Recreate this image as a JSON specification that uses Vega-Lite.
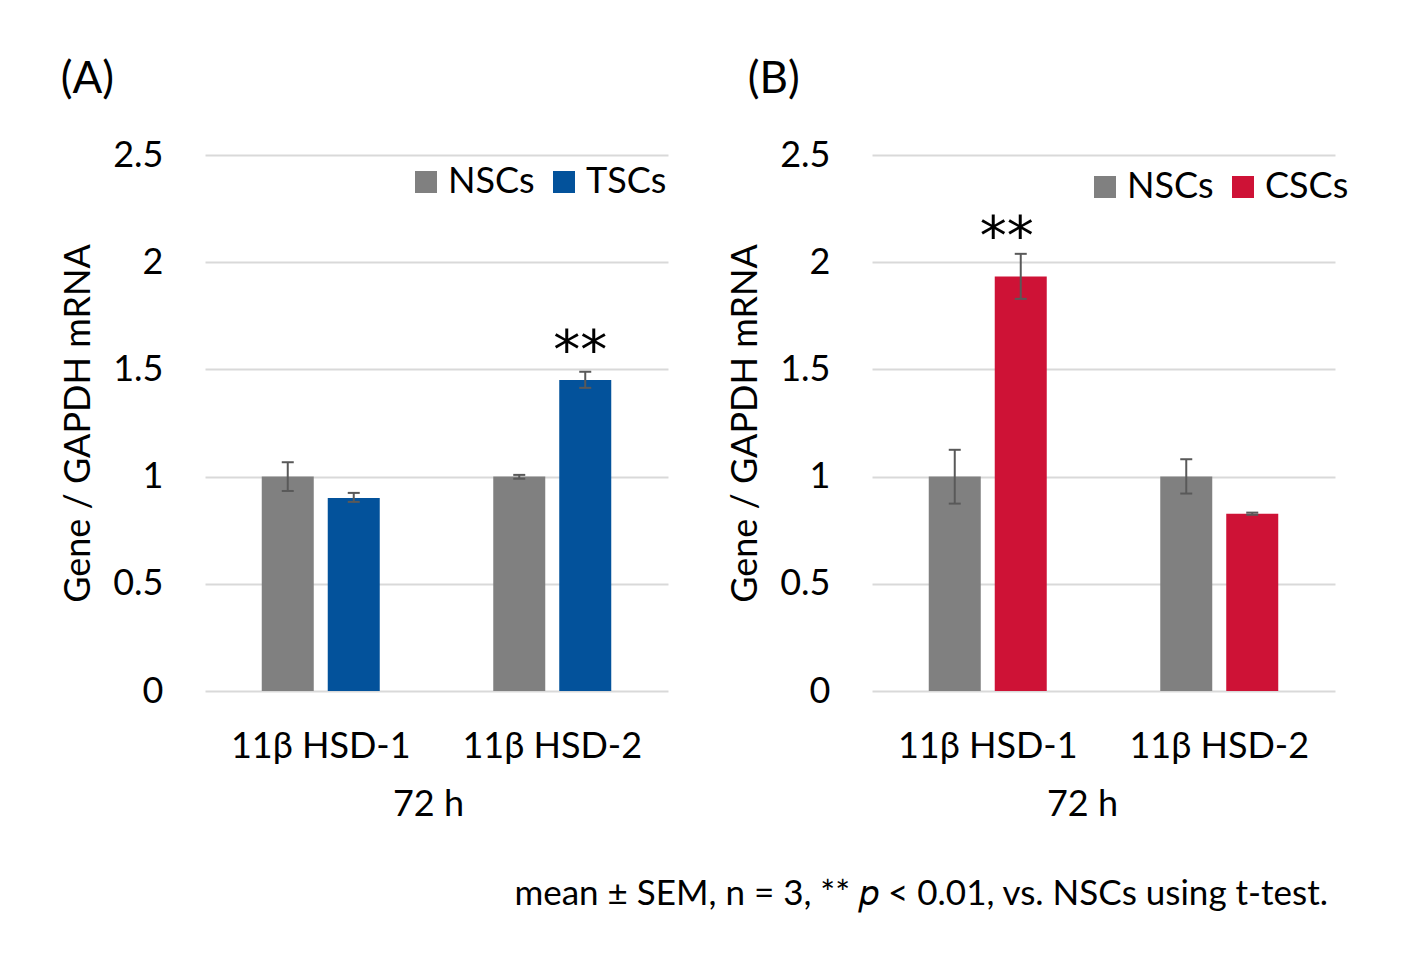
{
  "$schema": "https://vega.github.io/schema/vega-lite/v6.json",
  "padding": {"left": 60, "top": 58, "right": 10, "bottom": 10},
  "background": "white",
  "datasets": {
    "a": [
      {"gene": "11β HSD-1", "group": "NSCs", "mean": 1.0, "lo": 0.933, "hi": 1.067, "sig": ""},
      {"gene": "11β HSD-1", "group": "TSCs", "mean": 0.90, "lo": 0.882, "hi": 0.924, "sig": ""},
      {"gene": "11β HSD-2", "group": "NSCs", "mean": 1.0, "lo": 0.99, "hi": 1.008, "sig": ""},
      {"gene": "11β HSD-2", "group": "TSCs", "mean": 1.45, "lo": 1.414, "hi": 1.489, "sig": "**"}
    ],
    "b": [
      {"gene": "11β HSD-1", "group": "NSCs", "mean": 1.0, "lo": 0.874, "hi": 1.125, "sig": ""},
      {"gene": "11β HSD-1", "group": "CSCs", "mean": 1.933, "lo": 1.829, "hi": 2.039, "sig": "**"},
      {"gene": "11β HSD-2", "group": "NSCs", "mean": 1.0, "lo": 0.921, "hi": 1.081, "sig": ""},
      {"gene": "11β HSD-2", "group": "CSCs", "mean": 0.827, "lo": 0.822, "hi": 0.832, "sig": ""}
    ]
  },
  "title": {
    "text": "mean ± SEM, n = 3, ** 𝑝 < 0.01, vs. NSCs using t-test.",
    "orient": "bottom",
    "anchor": "end",
    "fontSize": 35,
    "fontWeight": "normal",
    "font": "Lato",
    "color": "#000000",
    "offset": 55,
    "dx": -21
  },
  "spacing": 59,
  "hconcat": [
    {
      "width": 463,
      "height": 536,
      "title": {"text": "(A)", "anchor": "start", "fontSize": 44, "fontWeight": "normal", "font": "Lato", "color": "#000000", "offset": 35},
      "data": {"name": "a"},
      "encoding": {
        "x": {
          "field": "gene", "type": "nominal", "sort": null, "title": "72 h",
          "scale": {"paddingInner": 0, "paddingOuter": 0},
          "axis": {"labelAngle": 0, "domain": false, "ticks": false, "labelPadding": 38, "titlePadding": 23, "titleX": 223}
        },
        "xOffset": {"field": "group", "type": "nominal", "sort": ["NSCs", "TSCs"], "scale": {"domain": ["NSCs", "TSCs"], "paddingInner": 0.212, "paddingOuter": 0.86}}
      },
      "layer": [
        {
          "mark": {"type": "bar"},
          "encoding": {
            "y": {
              "field": "mean", "type": "quantitative", "title": "Gene / GAPDH mRNA",
              "scale": {"domain": [0, 2.5], "nice": false},
              "axis": {"values": [0, 0.5, 1, 1.5, 2, 2.5], "format": "~g", "domain": false, "ticks": false, "grid": true, "labelPadding": 42, "titlePadding": 15}
            },
            "color": {
              "field": "group", "type": "nominal",
              "scale": {"domain": ["NSCs", "TSCs"], "range": ["#808080", "#03529B"]},
              "legend": {"orient": "none", "legendX": 203, "legendY": 9, "direction": "horizontal", "title": null}
            }
          }
        },
        {
          "mark": {"type": "rule", "color": "#595959", "strokeWidth": 2},
          "encoding": {"y": {"field": "lo", "type": "quantitative"}, "y2": {"field": "hi"}}
        },
        {
          "mark": {"type": "tick", "color": "#595959", "size": 12, "thickness": 2, "opacity": 1},
          "encoding": {"y": {"field": "lo", "type": "quantitative"}}
        },
        {
          "mark": {"type": "tick", "color": "#595959", "size": 12, "thickness": 2, "opacity": 1},
          "encoding": {"y": {"field": "hi", "type": "quantitative"}}
        },
        {
          "mark": {"type": "text", "fontSize": 54, "font": "DejaVu Sans", "baseline": "bottom", "dy": 7, "dx": -5, "color": "#000000"},
          "encoding": {"y": {"field": "hi", "type": "quantitative"}, "text": {"field": "sig"}}
        }
      ]
    },
    {
      "width": 463,
      "height": 536,
      "title": {"text": "(B)", "anchor": "start", "fontSize": 44, "fontWeight": "normal", "font": "Lato", "color": "#000000", "offset": 35, "dx": 20},
      "data": {"name": "b"},
      "encoding": {
        "x": {
          "field": "gene", "type": "nominal", "sort": null, "title": "72 h",
          "scale": {"paddingInner": 0, "paddingOuter": 0},
          "axis": {"labelAngle": 0, "domain": false, "ticks": false, "labelPadding": 38, "titlePadding": 23, "titleX": 210}
        },
        "xOffset": {"field": "group", "type": "nominal", "sort": ["NSCs", "CSCs"], "scale": {"domain": ["NSCs", "CSCs"], "paddingInner": 0.212, "paddingOuter": 0.86}}
      },
      "layer": [
        {
          "mark": {"type": "bar"},
          "encoding": {
            "y": {
              "field": "mean", "type": "quantitative", "title": "Gene / GAPDH mRNA",
              "scale": {"domain": [0, 2.5], "nice": false},
              "axis": {"values": [0, 0.5, 1, 1.5, 2, 2.5], "format": "~g", "domain": false, "ticks": false, "grid": true, "labelPadding": 42, "titlePadding": 15}
            },
            "color": {
              "field": "group", "type": "nominal",
              "scale": {"domain": ["NSCs", "CSCs"], "range": ["#808080", "#CE1236"]},
              "legend": {"orient": "none", "legendX": 215, "legendY": 14, "direction": "horizontal", "title": null}
            }
          }
        },
        {
          "mark": {"type": "rule", "color": "#595959", "strokeWidth": 2},
          "encoding": {"y": {"field": "lo", "type": "quantitative"}, "y2": {"field": "hi"}}
        },
        {
          "mark": {"type": "tick", "color": "#595959", "size": 12, "thickness": 2, "opacity": 1},
          "encoding": {"y": {"field": "lo", "type": "quantitative"}}
        },
        {
          "mark": {"type": "tick", "color": "#595959", "size": 12, "thickness": 2, "opacity": 1},
          "encoding": {"y": {"field": "hi", "type": "quantitative"}}
        },
        {
          "mark": {"type": "text", "fontSize": 54, "font": "DejaVu Sans", "baseline": "bottom", "dy": 11, "dx": -14, "color": "#000000"},
          "encoding": {"y": {"field": "hi", "type": "quantitative"}, "text": {"field": "sig"}}
        }
      ]
    }
  ],
  "resolve": {"scale": {"color": "independent", "x": "independent", "xOffset": "independent", "y": "independent"}},
  "config": {
    "view": {"stroke": null},
    "font": "Lato",
    "axis": {
      "labelFont": "Lato", "titleFont": "Lato",
      "labelFontSize": 36, "titleFontSize": 36,
      "labelColor": "#000000", "titleColor": "#000000",
      "titleFontWeight": "normal",
      "gridColor": "#d9d9d9", "gridWidth": 2
    },
    "legend": {
      "symbolType": "square", "symbolSize": 484, "symbolStrokeWidth": 0, "symbolOpacity": 1,
      "labelFont": "Lato", "labelFontSize": 36, "labelColor": "#000000",
      "labelOffset": 4, "columnPadding": 11
    }
  }
}
